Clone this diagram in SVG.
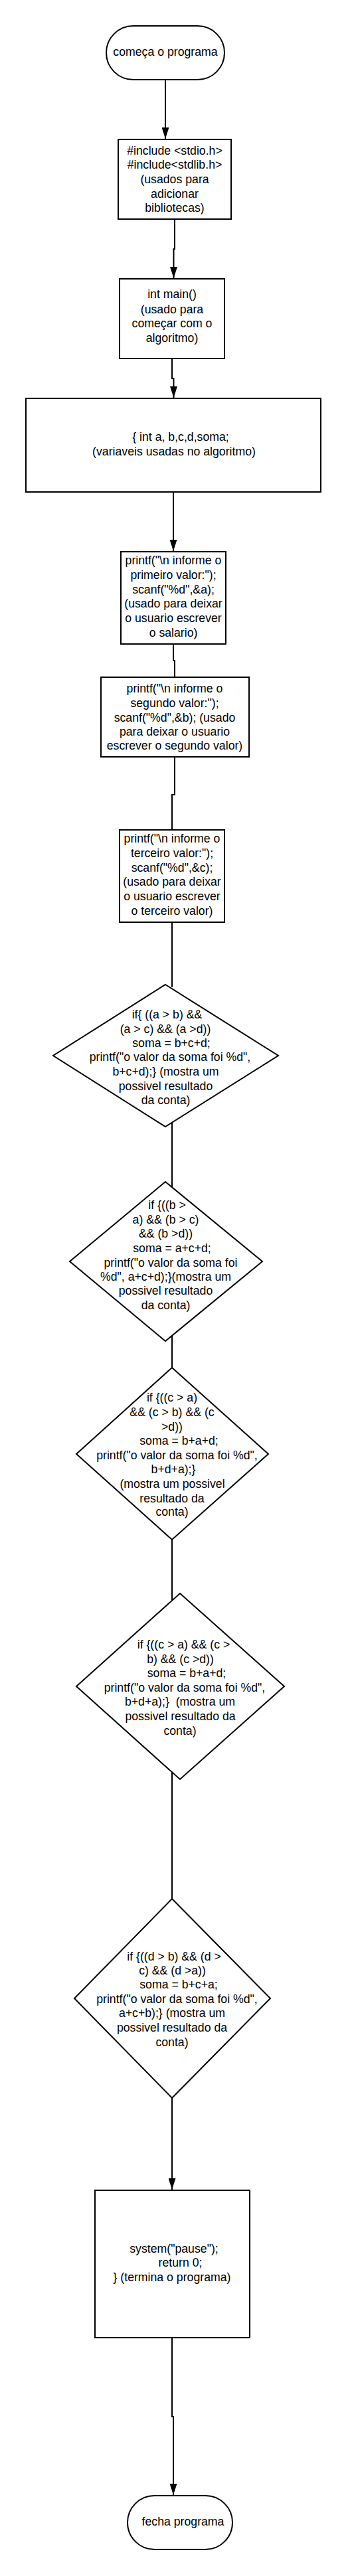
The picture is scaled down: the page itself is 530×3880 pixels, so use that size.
<svg xmlns="http://www.w3.org/2000/svg" width="530" height="3880" viewBox="0 0 530 3880">
<style>
.s{fill:#fff;stroke:#000;stroke-width:2}
.c{fill:none;stroke:#000;stroke-width:2}
text{font-family:"Liberation Sans",Arial,sans-serif;font-size:17.7px;fill:#000;text-anchor:middle}
</style>
<defs>
<marker id="ah" viewBox="0 0 17 11" markerWidth="17" markerHeight="11" refX="17" refY="5.5" orient="auto" markerUnits="userSpaceOnUse">
<path d="M0,0 L17,5.5 L0,11 z" fill="#000"/>
</marker>
</defs>
<rect width="530" height="3880" fill="#fff"/>
<g id="connectors">
<path class="c" d="M249,120 V209" marker-end="url(#ah)"/>
<path class="c" d="M263,330 V375 H261.5 V419" marker-end="url(#ah)"/>
<path class="c" d="M259,540 V570 H261.5 V599" marker-end="url(#ah)"/>
<path class="c" d="M261,741 V830" marker-end="url(#ah)"/>
<path class="c" d="M261,970 V995 H263 V1020"/>
<path class="c" d="M263,1140 V1197 H259 V1250"/>
<path class="c" d="M259,1389 V1487"/>
<path class="c" d="M259,1691 V1788"/>
<path class="c" d="M259,2012 V2060"/>
<path class="c" d="M259,2319 V2411"/>
<path class="c" d="M259,2669 V2860"/>
<path class="c" d="M259,3160 V3298" marker-end="url(#ah)"/>
<path class="c" d="M259,3521 V3640 H261 V3758" marker-end="url(#ah)"/>
</g>
<g id="inicio">
<rect class="s" x="160" y="39" width="178" height="81" rx="40.5" ry="40.5"/>
<text x="249" y="84">começa o programa</text>
</g>
<g id="includes">
<rect class="s" x="178" y="210" width="170" height="120"/>
<text x="263" y="233">#include &lt;stdio.h&gt;</text>
<text x="263" y="254">#include&lt;stdlib.h&gt;</text>
<text x="263" y="276">(usados para</text>
<text x="263" y="298">adicionar</text>
<text x="263" y="319">bibliotecas)</text>
</g>
<g id="main">
<rect class="s" x="180" y="420" width="158" height="120"/>
<text x="259" y="449">int main()</text>
<text x="259" y="472">(usado para</text>
<text x="259" y="493">começar com o</text>
<text x="259" y="515">algoritmo)</text>
</g>
<g id="variaveis">
<rect class="s" x="39" y="600" width="444" height="141"/>
<text x="272" y="664">{ int a, b,c,d,soma;</text>
<text x="262" y="686">(variaveis usadas no algoritmo)</text>
</g>
<g id="valor1">
<rect class="s" x="182" y="831" width="158" height="139"/>
<text x="261" y="850">printf("\n informe o</text>
<text x="261" y="872">primeiro valor:");</text>
<text x="261" y="894">scanf("%d",&amp;a);</text>
<text x="261" y="915">(usado para deixar</text>
<text x="261" y="937">o usuario escrever</text>
<text x="261" y="959">o salario)</text>
</g>
<g id="valor2">
<rect class="s" x="152" y="1020" width="223" height="120"/>
<text x="263" y="1043">printf("\n informe o</text>
<text x="263" y="1065">segundo valor:");</text>
<text x="263" y="1087">scanf("%d",&amp;b); (usado</text>
<text x="263" y="1108">para deixar o usuario</text>
<text x="263" y="1129">escrever o segundo valor)</text>
</g>
<g id="valor3">
<rect class="s" x="180" y="1250" width="158" height="139"/>
<text x="259" y="1269">printf("\n informe o</text>
<text x="259" y="1291">terceiro valor:");</text>
<text x="259" y="1313">scanf("%d",&amp;c);</text>
<text x="259" y="1334">(usado para deixar</text>
<text x="259" y="1356">o usuario escrever</text>
<text x="259" y="1378">o terceiro valor)</text>
</g>
<g id="se_a">
<path class="s" d="M249,1483 L419,1590 L249,1697 L80,1590 z"/>
<text x="251.5" y="1534">if{ ((a &gt; b) &amp;&amp;</text>
<text x="249" y="1556">(a &gt; c) &amp;&amp; (a &gt;d))</text>
<text x="258" y="1577">soma = b+c+d;</text>
<text x="256" y="1598">printf("o valor da soma foi %d",</text>
<text x="249.5" y="1620">b+c+d);} (mostra um</text>
<text x="249.5" y="1642">possivel resultado</text>
<text x="249.5" y="1663">da conta)</text>
</g>
<g id="se_b">
<path class="s" d="M249,1780 L395,1900 L249,2020 L105,1900 z"/>
<text x="251.5" y="1821">if {((b &gt;</text>
<text x="249.5" y="1843">a) &amp;&amp; (b &gt; c)</text>
<text x="249.5" y="1864">&amp;&amp; (b &gt;d))</text>
<text x="259" y="1886">soma = a+c+d;</text>
<text x="257" y="1908">printf("o valor da soma foi</text>
<text x="249.5" y="1929">%d", a+c+d);}(mostra um</text>
<text x="249.5" y="1950">possivel resultado</text>
<text x="249.5" y="1972">da conta)</text>
</g>
<g id="se_c">
<path class="s" d="M259,2060 L404,2190 L259,2319 L115,2190 z"/>
<text x="259" y="2111">if {((c &gt; a)</text>
<text x="259" y="2133">&amp;&amp; (c &gt; b) &amp;&amp; (c</text>
<text x="259" y="2155">&gt;d))</text>
<text x="269.5" y="2176">soma = b+a+d;</text>
<text x="266.5" y="2198">printf("o valor da soma foi %d",</text>
<text x="261" y="2219">b+d+a);}</text>
<text x="259.5" y="2241">(mostra um possivel</text>
<text x="259" y="2263">resultado da</text>
<text x="259" y="2283">conta)</text>
</g>
<g id="se_c2">
<path class="s" d="M271,2400 L428,2540 L271,2680 L115,2540 z"/>
<text x="276.5" y="2483">if {((c &gt; a) &amp;&amp; (c &gt;</text>
<text x="271.5" y="2505">b) &amp;&amp; (c &gt;d))</text>
<text x="281" y="2526">soma = b+a+d;</text>
<text x="278" y="2548">printf("o valor da soma foi %d",</text>
<text x="271" y="2569" xml:space="preserve">b+d+a);}  (mostra um</text>
<text x="271.5" y="2591">possivel resultado da</text>
<text x="271" y="2613">conta)</text>
</g>
<g id="se_d">
<path class="s" d="M259,2860 L407,3010 L259,3160 L112,3010 z"/>
<text x="262" y="2953">if {((d &gt; b) &amp;&amp; (d &gt;</text>
<text x="259.5" y="2974">c) &amp;&amp; (d &gt;a))</text>
<text x="269" y="2995">soma = b+c+a;</text>
<text x="266.5" y="3017">printf("o valor da soma foi %d",</text>
<text x="259" y="3038">a+c+b);} (mostra um</text>
<text x="259" y="3060">possivel resultado da</text>
<text x="259" y="3082">conta)</text>
</g>
<g id="fim_main">
<rect class="s" x="143" y="3299" width="233" height="222"/>
<text x="262" y="3393">system("pause");</text>
<text x="271.5" y="3414">return 0;</text>
<text x="259" y="3436">} (termina o programa)</text>
</g>
<g id="fim">
<rect class="s" x="192" y="3759" width="158" height="81" rx="40.5" ry="40.5"/>
<text x="275.5" y="3804">fecha programa</text>
</g>
</svg>
